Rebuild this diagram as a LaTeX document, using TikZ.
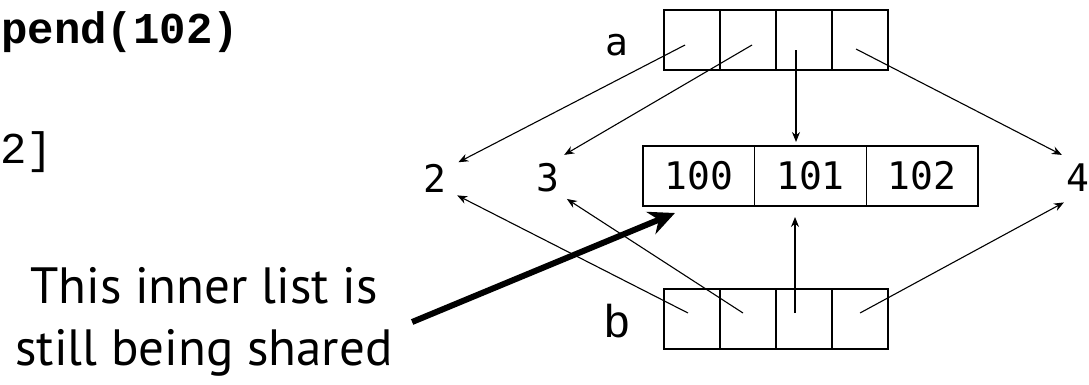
\documentclass[tikz,border=0pt]{standalone}
\usepackage{fontspec}
\usetikzlibrary{arrows.meta}
\newfontfamily\boxfont{DejaVu Sans Mono}
\newfontfamily\codefont{Liberation Mono}
\newfontfamily\notefont[Ligatures=NoCommon]{PT Sans}

\begin{document}
\begin{tikzpicture}[x=1pt, y=-1pt,
  cell/.style={draw, line width=1.2pt, minimum width=56pt, minimum height=60pt, inner sep=0pt, outer sep=0pt},
  wide/.style={cell, minimum width=111.67pt, font=\boxfont\fontsize{38}{40}\selectfont},
  val/.style={circle, minimum size=56pt, inner sep=0pt, font=\boxfont\fontsize{38}{40}\selectfont},
  ptr/.style={line width=1.1pt, -{Stealth[length=10pt,width=8pt]}}]

\useasboundingbox (0,0) rectangle (1089,384);

% ── Code lines (cut off at the left) ──
\node[font=\codefont\bfseries\fontsize{44}{46}\selectfont, anchor=base west, inner sep=0pt] (code1) at (1,43) {pend(102)};
\node[font=\codefont\fontsize{44}{46}\selectfont, anchor=base west, inner sep=0pt] (code2) at (0,163) {2]};

% ── Outer lists a and b ──
\node[font=\boxfont\fontsize{38}{40}\selectfont, anchor=base] (la) at (617,55) {a};
\node[font=\codefont\fontsize{46}{48}\selectfont, anchor=base] (lb) at (617,337) {b};
\foreach \i/\x in {1/692, 2/748, 3/804, 4/860} {
  \node[cell] (a\i) at (\x,40) {};
  \node[cell] (b\i) at (\x,319) {};
}

% ── Shared inner list ──
\node[wide] (m1) at (698.8,176) {100};
\node[wide] (m2) at (810.5,176) {101};
\node[wide] (m3) at (922.2,176) {102};
\coordinate (mtop) at (m2.north -| a3.center);
\coordinate (mbot) at (m2.south -| b3.center);

% ── Values ──
\node[val] (v2) at (435,178) {2};
\node[val] (v3) at (548,178) {3};
\node[val] (v4) at (1078,178) {4};

% ── Pointers ──
\draw[ptr] ([xshift=-7pt,yshift=-5pt]a1.center) -- (v2.34);
\draw[ptr] ([xshift=4pt,yshift=-5pt]a2.center) -- (v3.55);
\draw[ptr] ([xshift=-8pt,yshift=-10pt]a3.center) -- ([xshift=-8pt,yshift=4pt]mtop);
\draw[ptr] ([xshift=-4pt,yshift=-9pt]a4.center) -- (v4.125);
\draw[ptr] ([xshift=-4pt,yshift=6pt]b1.center) -- (v2.-38);
\draw[ptr] ([xshift=-5pt,yshift=6pt]b2.center) -- (v3.-48);
\draw[ptr] ([xshift=-9pt,yshift=6pt]b3.center) -- ([xshift=-9pt,yshift=-11pt]mbot);
\draw[ptr] ([yshift=6pt]b4.center) -- (v4.240);

% ── Note ──
\node[font=\notefont\fontsize{51}{62}\selectfont, align=center] (note) at (204,322) {This inner list is\\still being shared};
\coordinate (tip) at ([shift={(32pt,-7pt)}]m1.south west);
\draw[line width=6pt, -{Stealth[length=26pt,width=24pt]}] ([xshift=16pt]note.east) -- (tip);

\end{tikzpicture}
\end{document}
